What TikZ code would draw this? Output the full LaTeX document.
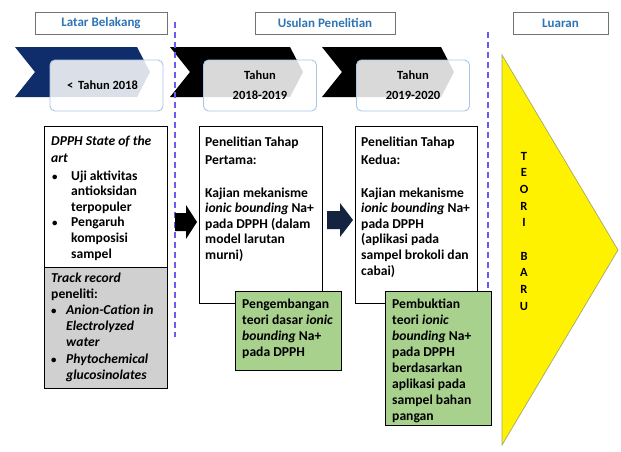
\documentclass[tikz,border=0pt]{standalone}
\usepackage{fontspec}
\setmainfont{Carlito}
\definecolor{navyc}{HTML}{0F2C6B}
\definecolor{hdrblue}{HTML}{2E75B6}
\definecolor{dashc}{HTML}{6B5CF0}
\definecolor{lblue}{HTML}{A9C8E8}
\definecolor{grayfill}{HTML}{D0D0D0}
\definecolor{greenfill}{HTML}{A9D18E}
\definecolor{triborder}{HTML}{A6A86A}
\definecolor{arrowc}{HTML}{14233F}
\newcommand\bul[1]{\makebox[#1][l]{\scalebox{0.8}{\textbullet}}}
\newcommand\ind[1]{\hspace*{#1}}
\newcommand\tb[2]{\parbox[t]{#1}{\raggedright #2}}
\tikzset{
  hdr/.style={draw=black!55, line width=0.9pt, fill=white, minimum height=22pt, inner sep=0pt,
    text=hdrblue, font=\fontsize{13}{15}\selectfont\bfseries},
  yearbox/.style={draw=lblue, line width=0.9pt, fill=white, fill opacity=0.85, text opacity=1,
    rounded corners=5pt, minimum width=113pt, minimum height=51pt, inner sep=0pt, align=center,
    font=\fontsize{12.5}{20}\selectfont\bfseries},
  mainbox/.style={draw=black, line width=1.4pt, anchor=north west, inner sep=0pt},
  txt/.style={anchor=base west, inner sep=0pt, font=\fontsize{13.6}{15.6}\selectfont\bfseries},
  dashline/.style={draw=dashc, line width=1.6pt, dash pattern=on 6pt off 4pt},
}
\begin{document}
\begin{tikzpicture}[x=1pt,y=-1pt]
\useasboundingbox (0,0) rectangle (621,451);

% header boxes
\node[hdr, minimum width=132pt] (h1) at (101,23) {Latar Belakang};
\node[hdr, minimum width=140pt] (h2) at (325,23) {Usulan Penelitian};
\node[hdr, minimum width=95pt] (h3) at (560.5,23) {Luaran};

% chevrons
\fill[navyc] (15,47) -- (137,47) -- (150,72) -- (137,97) -- (15,97) -- (35,72) -- cycle;
\fill[black] (170,47) -- (290,47) -- (303,72) -- (290,97) -- (170,97) -- (190,72) -- cycle;
\fill[black] (322,47) -- (441,47) -- (454,72) -- (441,97) -- (322,97) -- (342,72) -- cycle;

% dashed separators
\draw[dashline] (175,22) -- (175,337);
\draw[dashline] (488,32) -- (488,290);

% year boxes
\node[yearbox] (y1) at (106.5,85.5) {\hspace*{-8pt}{<}\hspace{2pt} Tahun 2018};
\node[yearbox] (y2) at (260,85.5) {Tahun\\2018-2019};
\node[yearbox] (y3) at (413,85.5) {Tahun\\2019-2020};

% main boxes
\node[mainbox, minimum width=123pt, minimum height=141pt] (b1) at (44,126) {};
\node[mainbox, fill=grayfill, minimum width=123pt, minimum height=121pt] (b1g) at (44,267) {};
\node[mainbox, minimum width=123pt, minimum height=177pt] (b2) at (199,126) {};
\node[mainbox, minimum width=122pt, minimum height=177pt] (b3) at (355,126) {};
\node[mainbox, fill=greenfill, minimum width=106pt, minimum height=79pt] (g1) at (235,291) {};
\node[mainbox, fill=greenfill, minimum width=106pt, minimum height=134pt] (g2) at (385,291) {};

% box 1 text
\node[txt, font=\fontsize{13.6}{17.5}\selectfont\bfseries\itshape] (t1a) at (51,145) {\tb{115pt}{DPPH State of the\\art}};
\node[txt] (t1b) at (52,180) {\tb{115pt}{\bul{19pt}Uji aktivitas\\\ind{19pt}antioksidan\\\ind{19pt}terpopuler\\\bul{19pt}Pengaruh\\\ind{19pt}komposisi\\\ind{19pt}sampel}};
\node[txt, font=\fontsize{13.6}{16.2}\selectfont\bfseries] (t1c) at (51,282) {\tb{115pt}{\textit{Track record}\\peneliti:\\\bul{15pt}\textit{Anion-Cation in}\\\ind{15pt}\textit{Electrolyzed}\\\ind{15pt}\textit{water}\\\bul{15pt}\textit{Phytochemical}\\\ind{15pt}\textit{glucosinolates}}};

% box 2 text
\node[txt, font=\fontsize{13.6}{18}\selectfont\bfseries] (t2a) at (205,146) {\tb{115pt}{Penelitian Tahap\\Pertama:}};
\node[txt] (t2b) at (205,197) {\tb{115pt}{Kajian mekanisme\\\textit{ionic bounding} Na+\\pada DPPH (dalam\\model larutan\\murni)}};

% box 3 text
\node[txt, font=\fontsize{13.6}{18}\selectfont\bfseries] (t3a) at (361,146) {\tb{115pt}{Penelitian Tahap\\Kedua:}};
\node[txt] (t3b) at (361,197) {\tb{115pt}{Kajian mekanisme\\\textit{ionic bounding} Na+\\pada DPPH\\(aplikasi pada\\sampel brokoli dan\\cabai)}};

% green texts
\node[txt, font=\fontsize{13.6}{16}\selectfont\bfseries] (tg1) at (242,308) {\tb{100pt}{Pengembangan\\teori dasar \textit{ionic}\\\textit{bounding} Na+\\pada DPPH}};
\node[txt, font=\fontsize{13.6}{16}\selectfont\bfseries] (tg2) at (392,308) {\tb{100pt}{Pembuktian\\teori \textit{ionic}\\\textit{bounding} Na+\\pada DPPH\\berdasarkan\\aplikasi pada\\sampel bahan\\pangan}};

% block arrows
\fill[black] (175,213) -- (186,213) -- (186,205) -- (197,222) -- (186,239) -- (186,231) -- (175,231) -- cycle;
\fill[arrowc] (327,211) -- (340,211) -- (340,203) -- (353,220) -- (340,237) -- (340,229) -- (327,229) -- cycle;

% output triangle
\draw[fill=yellow, draw=triborder, line width=0.7pt] (502,55) -- (618,250) -- (502,445) -- cycle;
\node[anchor=base, inner sep=0pt, font=\fontsize{12.5}{16.7}\selectfont\bfseries] (teori) at (524,160) {\parbox[t]{20pt}{\centering T\\E\\O\\R\\I\\[16.7pt]B\\A\\R\\U}};
\end{tikzpicture}
\end{document}
